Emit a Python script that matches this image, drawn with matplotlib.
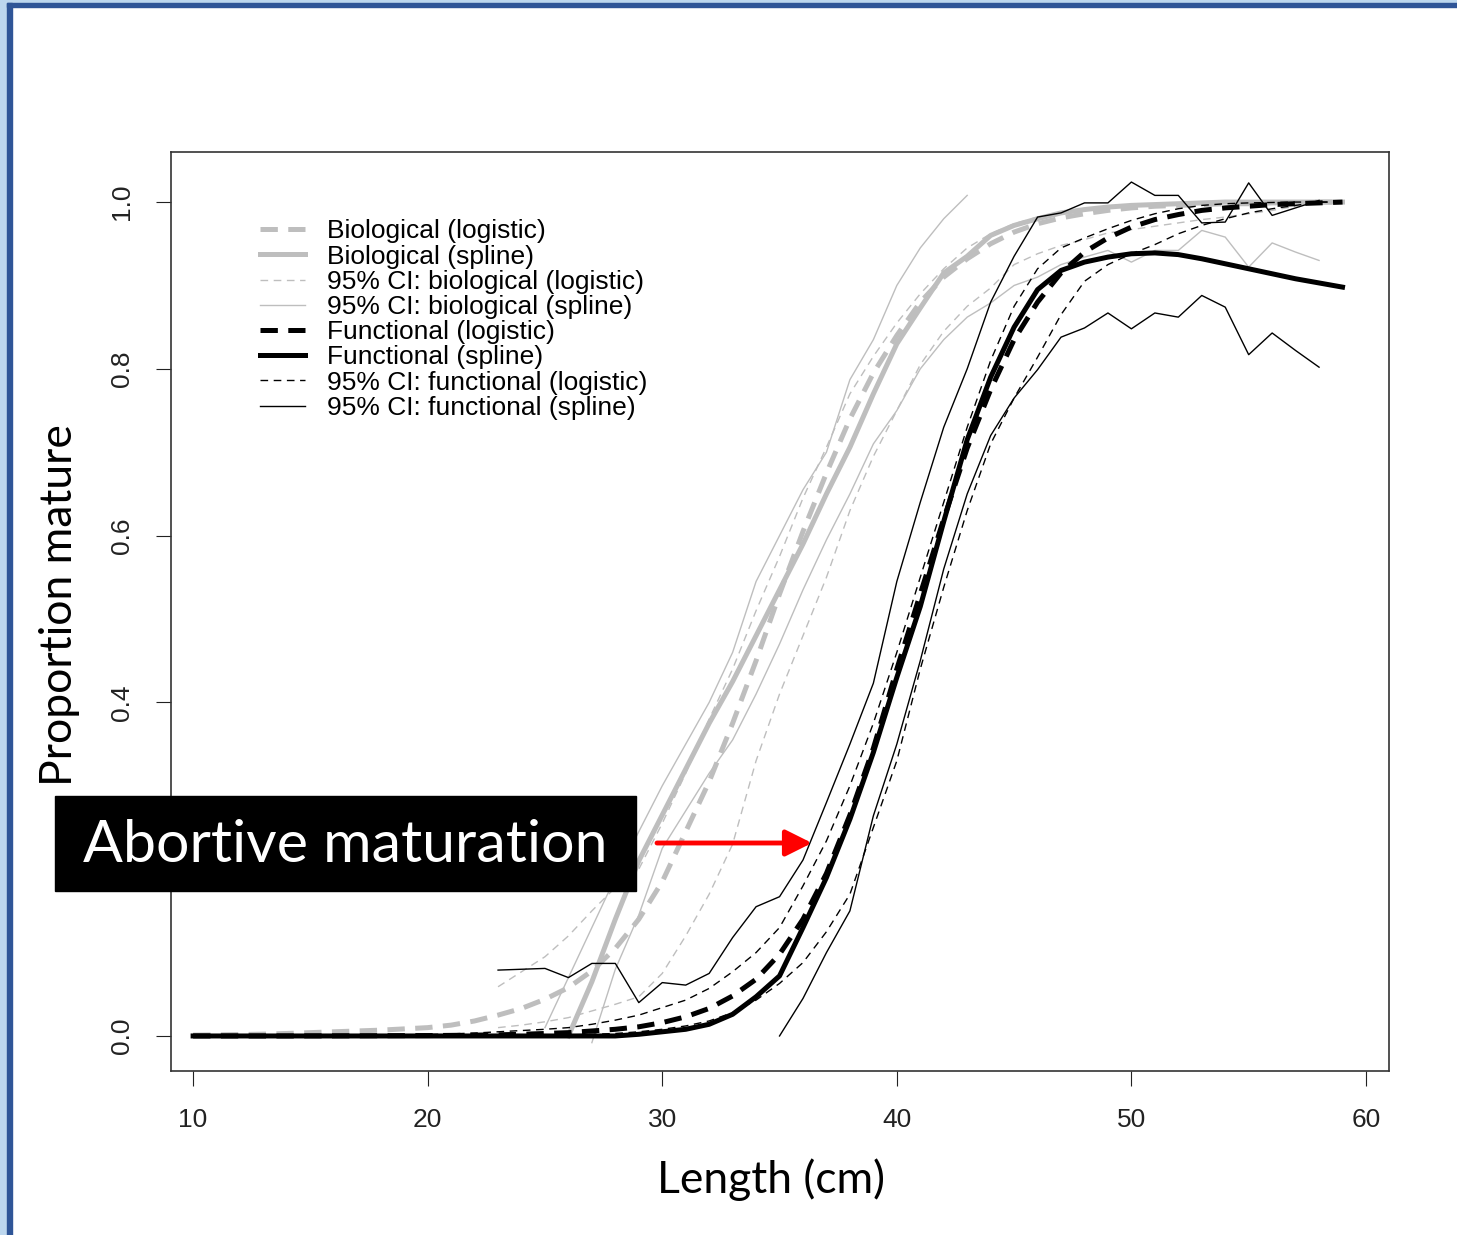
import numpy as np
import matplotlib
matplotlib.use('Agg')
import matplotlib.pyplot as plt
from matplotlib.patches import Rectangle

plt.rcParams['font.family'] = ['Liberation Sans', 'DejaVu Sans']
plt.rcParams['lines.scale_dashes'] = False

# length classes (cm)
length = np.arange(10, 60)

# biological maturity
bio_logistic = [0.001, 0.0013, 0.0017, 0.0022, 0.003, 0.004, 0.005, 0.006, 0.007, 0.0085,
                0.01, 0.013, 0.018, 0.025, 0.033, 0.044, 0.058, 0.078, 0.105, 0.14,
                0.185, 0.245, 0.305, 0.375, 0.45, 0.53, 0.605, 0.675, 0.74, 0.795,
                0.84, 0.88, 0.91, 0.932, 0.95, 0.964, 0.974, 0.981, 0.986, 0.99,
                0.993, 0.995, 0.996, 0.997, 0.998, 0.998, 0.999, 0.999, 1.0, 1.0]
bio_spline_x = np.arange(26, 60)
bio_spline = [0.0, 0.065, 0.14, 0.21, 0.265, 0.32, 0.375, 0.425, 0.48, 0.535,
              0.59, 0.65, 0.706, 0.77, 0.83, 0.873, 0.915, 0.935, 0.96, 0.972,
              0.98, 0.987, 0.991, 0.994, 0.996, 0.997, 0.998, 0.999, 1.0, 1.0,
              1.0, 1.0, 1.0, 1.0]
bio_ci_log_x = np.arange(23, 59)
bio_log_upper = [0.059, 0.077, 0.095, 0.12, 0.15, 0.178, 0.20, 0.255, 0.315, 0.38,
                 0.44, 0.51, 0.575, 0.645, 0.706, 0.77, 0.815, 0.855, 0.89, 0.92,
                 0.945, 0.962, 0.974, 0.982, 0.988, 0.992, 0.994, 0.996, 0.997, 0.998,
                 0.999, 0.999, 1.0, 1.0, 1.0, 1.0]
bio_log_lower = [0.01, 0.013, 0.017, 0.022, 0.03, 0.038, 0.047, 0.075, 0.12, 0.17,
                 0.23, 0.33, 0.41, 0.48, 0.55, 0.63, 0.695, 0.75, 0.805, 0.845,
                 0.875, 0.897, 0.925, 0.938, 0.948, 0.955, 0.963, 0.967, 0.971, 0.975,
                 0.979, 0.982, 0.986, 0.99, 0.995, 0.999]
bio_spl_upper_x = np.arange(25, 44)
bio_spl_upper = [0.01, 0.07, 0.13, 0.19, 0.245, 0.30, 0.35, 0.40, 0.46, 0.545,
                 0.60, 0.655, 0.70, 0.787, 0.835, 0.90, 0.945, 0.98, 1.008]
bio_spl_lower_x = np.arange(27, 59)
bio_spl_lower = [-0.008, 0.08, 0.145, 0.225, 0.27, 0.315, 0.355, 0.41, 0.47, 0.535,
                 0.595, 0.65, 0.71, 0.75, 0.80, 0.835, 0.862, 0.879, 0.90, 0.91,
                 0.925, 0.934, 0.942, 0.928, 0.942, 0.942, 0.966, 0.958, 0.922, 0.951,
                 0.94, 0.93]

# functional maturity
fun_logistic = [0.0, 0.0, 0.0, 0.0, 0.0, 0.0001, 0.0001, 0.0002, 0.0003, 0.0004,
                0.0005, 0.0007, 0.001, 0.0014, 0.002, 0.003, 0.004, 0.006, 0.008, 0.011,
                0.016, 0.023, 0.033, 0.048, 0.068, 0.098, 0.14, 0.195, 0.265, 0.345,
                0.44, 0.53, 0.62, 0.705, 0.775, 0.835, 0.88, 0.915, 0.94, 0.957,
                0.97, 0.979, 0.985, 0.99, 0.993, 0.995, 0.997, 0.998, 0.999, 1.0]
fun_spline = [0.0, 0.0, 0.0, 0.0, 0.0, 0.0, 0.0, 0.0, 0.0, 0.0,
              0.0, 0.0, 0.0, 0.0, 0.0, 0.0, 0.0, 0.0, 0.0, 0.002,
              0.005, 0.008, 0.014, 0.026, 0.047, 0.072, 0.13, 0.19, 0.26, 0.34,
              0.43, 0.515, 0.617, 0.715, 0.79, 0.85, 0.895, 0.918, 0.928, 0.934,
              0.938, 0.939, 0.937, 0.932, 0.926, 0.92, 0.914, 0.908, 0.903, 0.898]
fun_log_upper = [0.0, 0.0, 0.0001, 0.0001, 0.0002, 0.0003, 0.0004, 0.0006, 0.0009, 0.0013,
                 0.0018, 0.0025, 0.0035, 0.005, 0.0065, 0.008, 0.01, 0.014, 0.019, 0.025,
                 0.034, 0.043, 0.057, 0.077, 0.10, 0.13, 0.18, 0.234, 0.30, 0.375,
                 0.46, 0.55, 0.64, 0.73, 0.81, 0.875, 0.92, 0.945, 0.957, 0.968,
                 0.978, 0.986, 0.992, 0.996, 0.998, 0.999, 0.9995, 1.0, 1.0, 1.0]
fun_log_lower = [0.0, 0.0, 0.0, 0.0, 0.0, 0.0, 0.0, 0.0, 0.0, 0.0001,
                 0.0001, 0.0002, 0.0003, 0.0004, 0.0006, 0.0009, 0.0013, 0.002, 0.003, 0.005,
                 0.008, 0.012, 0.018, 0.028, 0.043, 0.063, 0.088, 0.125, 0.17, 0.25,
                 0.33, 0.44, 0.538, 0.63, 0.71, 0.765, 0.814, 0.865, 0.905, 0.925,
                 0.938, 0.949, 0.962, 0.972, 0.98, 0.987, 0.992, 0.996, 1.0, 1.0]
fun_spl_upper_x = np.arange(23, 59)
fun_spl_upper = [0.079, 0.080, 0.081, 0.070, 0.087, 0.087, 0.040, 0.064, 0.061, 0.075,
                 0.118, 0.155, 0.167, 0.211, 0.28, 0.35, 0.423, 0.545, 0.64, 0.73,
                 0.80, 0.88, 0.935, 0.982, 0.987, 0.999, 0.999, 1.024, 1.008, 1.008,
                 0.975, 0.976, 1.023, 0.984, 0.993, 1.002]
fun_spl_lower_x = np.arange(35, 59)
fun_spl_lower = [0.0, 0.045, 0.10, 0.15, 0.264, 0.35, 0.45, 0.56, 0.65, 0.72,
                 0.765, 0.799, 0.838, 0.849, 0.867, 0.848, 0.867, 0.862, 0.888, 0.874,
                 0.817, 0.843, 0.822, 0.802]

grey = '#BEBEBE'
thick = 3.6
thin = 1.0
dash_thick = (0, (12.5, 7.5))
dash_thin = (0, (5.5, 4.0))

fig = plt.figure(figsize=(14.57, 12.35), dpi=100)
ax = fig.add_axes([0.1174, 0.1328, 0.8359, 0.7441])

h1, = ax.plot(length, bio_logistic, color=grey, lw=thick, linestyle=dash_thick)
h2, = ax.plot(bio_spline_x, bio_spline, color=grey, lw=thick)
h3, = ax.plot(bio_ci_log_x, bio_log_upper, color=grey, lw=thin, linestyle=dash_thin)
ax.plot(bio_ci_log_x, bio_log_lower, color=grey, lw=thin, linestyle=dash_thin)
h4, = ax.plot(bio_spl_upper_x, bio_spl_upper, color=grey, lw=thin)
ax.plot(bio_spl_lower_x, bio_spl_lower, color=grey, lw=thin)

h5, = ax.plot(length, fun_logistic, color='black', lw=thick, linestyle=dash_thick)
h6, = ax.plot(length, fun_spline, color='black', lw=thick)
h7, = ax.plot(length, fun_log_upper, color='black', lw=thin, linestyle=dash_thin)
ax.plot(length, fun_log_lower, color='black', lw=thin, linestyle=dash_thin)
h8, = ax.plot(fun_spl_upper_x, fun_spl_upper, color='black', lw=thin)
ax.plot(fun_spl_lower_x, fun_spl_lower, color='black', lw=thin)

labels = ['Biological (logistic)', 'Biological (spline)',
          '95% CI: biological (logistic)', '95% CI: biological (spline)',
          'Functional (logistic)', 'Functional (spline)',
          '95% CI: functional (logistic)', '95% CI: functional (spline)']
ax.legend([h1, h2, h3, h4, h5, h6, h7, h8], labels, loc='upper left',
          bbox_to_anchor=(0.073, 0.9266), frameon=False, fontsize=19,
          borderpad=0, borderaxespad=0, labelspacing=0.045,
          handlelength=1.7, handletextpad=0.83)

ax.set_xlim(9.06, 60.98)
ax.set_ylim(-0.042, 1.06)
ax.set_xticks([10, 20, 30, 40, 50, 60])
ax.set_yticks([0.0, 0.2, 0.4, 0.6, 0.8, 1.0])
# the 0.2 label sits under the annotation box on the slide
ax.set_yticklabels(['0.0', '', '0.4', '0.6', '0.8', '1.0'], rotation=90, va='center')
ax.tick_params(axis='both', direction='out', length=10.8, width=0.8, pad=16,
               labelsize=19, colors='#222222')
for s in ax.spines.values():
    s.set_linewidth(1.2)
    s.set_color('#333333')

# slide-style annotations
fig.text(771 / 1457, 1 - 1180 / 1235, 'Length (cm)', family='Lato', fontsize=32,
         ha='center', va='center')
fig.text(60 / 1457, 1 - 605 / 1235, 'Proportion mature', family='Lato', fontsize=32,
         rotation=90, ha='center', va='center')
fig.patches.append(Rectangle((55 / 1457, 1 - 891 / 1235), 581 / 1457, 95 / 1235,
                             transform=fig.transFigure, color='black', zorder=10))
fig.text(345 / 1457, 1 - 845 / 1235, 'Abortive maturation', family='Lato', fontsize=42.5,
         color='white', ha='center', va='center', zorder=11)
ax.annotate('', xy=(812 / 1457, 1 - 843 / 1235), xytext=(657 / 1457, 1 - 843 / 1235),
            xycoords='figure fraction', textcoords='figure fraction',
            arrowprops=dict(arrowstyle='-|>,head_length=0.4,head_width=0.2',
                            color='red', lw=3.5, mutation_scale=40,
                            shrinkA=0, shrinkB=0), zorder=12)

# slide border
H = 1235
W = 1457
fig.patches.append(Rectangle((0, 1 - 3 / H), 1, 3 / H, transform=fig.transFigure,
                             color='#BDD7EE', zorder=20))
fig.patches.append(Rectangle((0, 0), 7 / W, 1, transform=fig.transFigure,
                             color='#BDD7EE', zorder=20))
fig.patches.append(Rectangle((7 / W, 1 - 7 / H), 1, 4 / H, transform=fig.transFigure,
                             color='#2F5597', zorder=21))
fig.patches.append(Rectangle((7 / W, 0), 5 / W, 1 - 3 / H, transform=fig.transFigure,
                             color='#2F5597', zorder=21))

fig.savefig('out.png', dpi=100)
